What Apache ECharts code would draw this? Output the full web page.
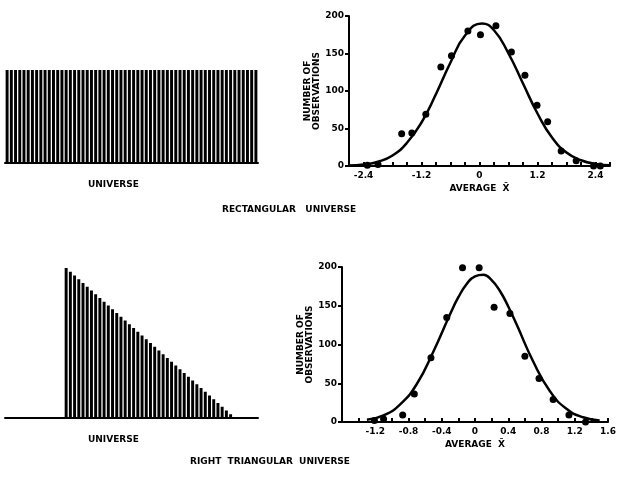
<!DOCTYPE html>
<html>
<head>
<meta charset="utf-8">
<script src="https://cdn.jsdelivr.net/npm/echarts@6/dist/echarts.min.js"></script>
<style>html,body{margin:0;background:#fff}#main{width:627px;height:480px}</style>
</head>
<body>
<div id="main"></div>
<script>
// universe shapes (relative heights of the vertical strips)
const rectHeights = [100,100,100,100,100,100,100,100,100,100,100,100,100,100,100,100,100,100,100,100,
  100,100,100,100,100,100,100,100,100,100,100,100,100,100,100,100,100,100,100,100,
  100,100,100,100,100,100,100,100,100,100,100,100,100,100,100,100,100,100,100,100];
const triHeights = [0,0,0,0,0,0,0,0,0,0,0,0,0,0,100,97.5,95,92.5,90,87.5,85,82.5,80,77.5,75,72.5,70,67.5,65,62.5,60,57.5,55,52.5,50,
  47.5,45,42.5,40,37.5,35,32.5,30,27.5,25,22.5,20,17.5,15,12.5,10,7.5,5,2.5,0,0,0,0,0,0];

// rectangular universe: observed averages and fitted curve
const rectObs = [[-2.32,1],[-2.1,2],[-1.61,43],[-1.4,44],[-1.11,69],[-0.8,132],[-0.58,147],[-0.24,180],
  [0.02,175],[0.34,187],[0.66,152],[0.94,121],[1.19,81],[1.41,59],[1.69,20],[2.0,7],[2.36,0],[2.5,0]];
const rectCurve = [[-2.7,0.6],[-2.4,1.9],[-2.1,5.7],[-1.8,14],[-1.5,31],[-1.2,58],[-0.9,96],[-0.6,138],
  [-0.3,174],[0.05,190],[0.3,181],[0.6,150],[0.9,110],[1.2,70],[1.5,38],[1.8,18],[2.1,7.7],[2.4,2.8],[2.7,0.9]];

// right triangular universe
const triObs = [[-1.21,2],[-1.1,4],[-0.87,9],[-0.73,36],[-0.53,83],[-0.34,135],[-0.15,199],[0.05,199],
  [0.23,148],[0.42,140],[0.6,85],[0.77,56],[0.94,29],[1.13,9],[1.33,0]];
const triCurve = [[-1.3,2.8],[-1.1,8.5],[-0.9,22.7],[-0.7,49],[-0.5,91],[-0.3,139],[-0.2,161],[-0.1,178],
  [0,188],[0.1,190],[0.2,183],[0.3,169],[0.4,149],[0.5,126],[0.7,78],[0.9,40],[1.1,17],[1.3,6.1],[1.5,1.9]];

const topLabels = ['-2.4','-1.2','0','1.2','2.4'];
const botLabels = ['-1.2','-0.8','-0.4','0','0.4','0.8','1.2','1.6'];

const ink = '#000';
const font = 'DejaVu Sans';
const txt = {color: ink, fontFamily: font, fontWeight: 'bold', fontSize: 9};
const fmt = list => v => { const s = (Math.round(v * 10) / 10).toString(); return list.includes(s) ? s : ''; };

const hiddenCat = (n, idx) => ({type: 'category', gridIndex: idx, data: n.map((_, i) => i),
  axisLine: {lineStyle: {color: ink, width: 2}}, axisTick: {show: false}, axisLabel: {show: false}});
const hiddenVal = idx => ({type: 'value', gridIndex: idx, min: 0, max: 100, show: false});

const valX = (idx, min, max, interval, labels) => ({type: 'value', gridIndex: idx, min, max, interval,
  name: 'AVERAGE  X̄', nameLocation: 'middle', nameGap: 18, nameTextStyle: txt,
  axisLine: {onZero: false, lineStyle: {color: ink, width: 2}},
  axisTick: {lineStyle: {color: ink, width: 2}, length: 4, inside: true},
  axisLabel: Object.assign({formatter: fmt(labels), margin: 5, hideOverlap: false}, txt),
  splitLine: {show: false}});
const valY = idx => ({type: 'value', gridIndex: idx, min: 0, max: 200, interval: 50,
  name: 'NUMBER OF\nOBSERVATIONS', nameLocation: 'middle', nameGap: 26, nameRotate: 90,
  nameTextStyle: Object.assign({lineHeight: 9}, txt),
  axisLine: {show: true, onZero: false, lineStyle: {color: ink, width: 2}},
  axisTick: {show: true, lineStyle: {color: ink, width: 2}, length: 4},
  axisLabel: Object.assign({margin: 5}, txt), splitLine: {show: false}});

const chart = echarts.init(document.getElementById('main'));
chart.setOption({
  backgroundColor: '#fff',
  animation: false,
  grid: [
    {left: 5, top: 70, width: 253, height: 93},
    {left: 349, top: 16, width: 261, height: 150},
    {left: 5, top: 268, width: 253, height: 150},
    {left: 342, top: 267, width: 266, height: 155}
  ],
  xAxis: [hiddenCat(rectHeights, 0), valX(1, -2.7, 2.7, 0.3, topLabels),
          hiddenCat(triHeights, 2), valX(3, -1.6, 1.6, 0.2, botLabels)],
  yAxis: [hiddenVal(0), valY(1), hiddenVal(2), valY(3)],
  graphic: [
    {type: 'text', left: 88, top: 180, style: Object.assign({text: 'UNIVERSE'}, txt, {fill: ink})},
    {type: 'text', left: 222, top: 205, style: Object.assign({text: 'RECTANGULAR   UNIVERSE'}, txt, {fill: ink})},
    {type: 'text', left: 88, top: 435, style: Object.assign({text: 'UNIVERSE'}, txt, {fill: ink})},
    {type: 'text', left: 190, top: 457, style: Object.assign({text: 'RIGHT  TRIANGULAR  UNIVERSE'}, txt, {fill: ink})}
  ],
  series: [
    {type: 'bar', xAxisIndex: 0, yAxisIndex: 0, data: rectHeights, barCategoryGap: '30%', itemStyle: {color: ink}},
    {type: 'line', xAxisIndex: 1, yAxisIndex: 1, data: rectCurve, smooth: true, symbol: 'none', lineStyle: {color: ink, width: 2.5}},
    {type: 'scatter', xAxisIndex: 1, yAxisIndex: 1, data: rectObs, symbolSize: 7, itemStyle: {color: ink, opacity: 1}},
    {type: 'bar', xAxisIndex: 2, yAxisIndex: 2, data: triHeights, barCategoryGap: '30%', itemStyle: {color: ink}},
    {type: 'line', xAxisIndex: 3, yAxisIndex: 3, data: triCurve, smooth: true, symbol: 'none', lineStyle: {color: ink, width: 2.5}},
    {type: 'scatter', xAxisIndex: 3, yAxisIndex: 3, data: triObs, symbolSize: 7, itemStyle: {color: ink, opacity: 1}}
  ]
});
</script>
</body>
</html>
